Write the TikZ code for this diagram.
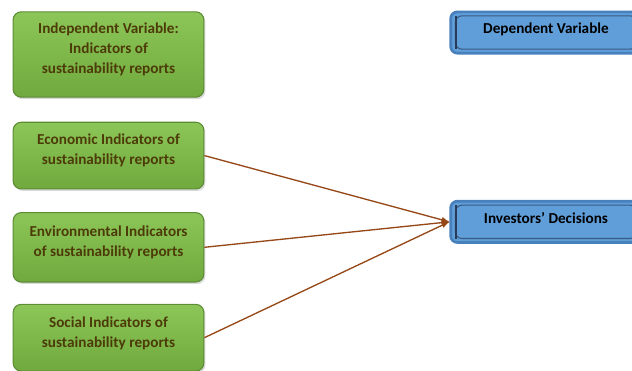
\documentclass[tikz,border=0pt]{standalone}
\usepackage{fontspec}
\setmainfont{Carlito}
\usepackage{tikz}
\usetikzlibrary{positioning,shadows}

\definecolor{greentop}{RGB}{140,198,88}
\definecolor{greenbot}{RGB}{112,170,62}
\definecolor{greenline}{RGB}{92,140,52}
\definecolor{textbrown}{RGB}{76,58,8}
\definecolor{bluefill}{RGB}{96,158,218}
\definecolor{blueline}{RGB}{72,128,188}
\definecolor{bluedark}{RGB}{40,60,90}
\definecolor{arrowbrown}{RGB}{150,72,22}

\begin{document}
\begin{tikzpicture}[x=0.75pt, y=-0.75pt, >=latex,
  every node/.style={align=center, font=\fontsize{11.4}{15}\selectfont\bfseries, text depth=9pt},
  gbox/.style={draw=greenline, line width=0.8pt, rounded corners=6pt, top color=greentop, bottom color=greenbot, text=textbrown, minimum width=143pt, drop shadow={shadow xshift=1.2pt, shadow yshift=-1.5pt, opacity=0.3}},
  bbox/.style={draw=blueline, line width=2pt, rounded corners=5pt, fill=bluefill, text=black, text depth=6pt, minimum width=143pt, minimum height=31pt,
    path picture={\draw[bluedark!70!bluefill, line width=0.8pt] ([xshift=3.5pt,yshift=-3pt]path picture bounding box.north west) rectangle ([xshift=-3.5pt,yshift=3pt]path picture bounding box.south east);
      \draw[bluedark, line width=1.4pt] ([xshift=3.8pt,yshift=-3pt]path picture bounding box.north west) -- ([xshift=3.8pt,yshift=3pt]path picture bounding box.south west);}},
  link/.style={->, draw=arrowbrown, line width=1pt}]
\useasboundingbox (0,0) rectangle (632,371);
% independent side
\node[gbox, minimum height=64pt] (indep) at (108.5,54.5) {Independent Variable:\\Indicators of\\sustainability reports};
\node[gbox, minimum height=50pt, below=18pt of indep] (econ) {Economic Indicators of\\sustainability reports};
\node[gbox, minimum height=52pt, below=17pt of econ] (env) {Environmental Indicators\\of sustainability reports};
\node[gbox, minimum height=50pt, below=16pt of env] (soc) {Social Indicators of\\sustainability reports};
% dependent side
\node[bbox] (dep) at (546,32.5) {Dependent Variable};
\node[bbox, below=109pt of dep] (dec) {Investors’ Decisions};
\draw[link] (econ.east) -- (dec.west);
\draw[link] (env.east) -- (dec.west);
\draw[link] (soc.east) -- (dec.west);
\end{tikzpicture}
\end{document}
